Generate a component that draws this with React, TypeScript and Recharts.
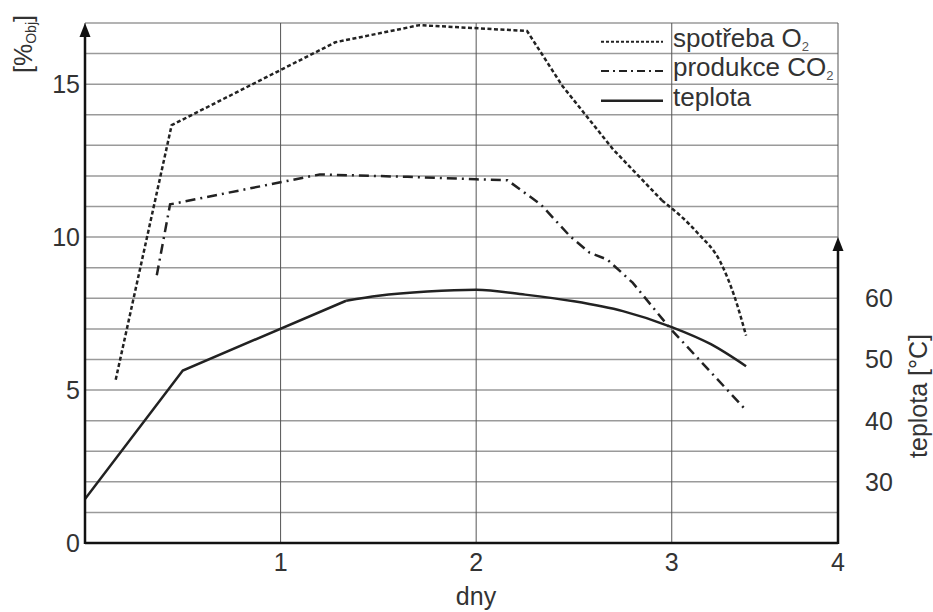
import React from 'react';
import { LineChart, Line, XAxis, YAxis, CartesianGrid, ReferenceLine } from 'recharts';

const FONT = '"Liberation Sans", Arial, sans-serif';
const INK = '#222';
const TEXT = '#333';

// axis ticks
const dayTicks = [1, 2, 3, 3.85];
const percentTicks = [0, 1, 2, 3, 4, 5, 6, 7, 8, 9, 10, 11, 12, 13, 14, 15, 16, 17];
const tempTicks = [30, 40, 50, 60];

// spotřeba O2 [%]
const o2Days = [0.157, 0.443, 1.28, 1.71, 2.26, 2.44, 2.7, 2.95, 3.13, 3.25, 3.32, 3.38];
const o2Values = [5.34, 13.66, 16.37, 16.93, 16.74, 14.95, 12.87, 11.2, 10.15, 9.17, 8.07, 6.78];

// produkce CO2 [%]
const co2Days = [0.367, 0.435, 1.2, 1.65, 2.0, 2.16, 2.33, 2.48, 2.58, 2.67, 2.8, 2.99, 3.37];
const co2Values = [8.75, 11.07, 12.05, 11.97, 11.89, 11.86, 11.07, 10.03, 9.49, 9.27, 8.51, 7.03, 4.41];

// teplota [°C]
const tempDays = [0, 0.5, 1.335, 1.5, 1.75, 2.0, 2.25, 2.5, 2.75, 3.0, 3.2, 3.38];
const tempValues = [27.2, 48.2, 59.6, 60.4, 61.1, 61.4, 60.6, 59.5, 57.9, 55.3, 52.5, 48.9];

const toPoints = (days: number[], values: number[]) =>
  days.map((day, i) => ({ day, value: values[i] }));

const o2Data = toPoints(o2Days, o2Values);
const co2Data = toPoints(co2Days, co2Values);
const tempData = toPoints(tempDays, tempValues);

// straight pieces are drawn linear, the rounded ends as smooth curves
const o2Straight = o2Data.slice(0, 8);
const o2Tail = o2Data.slice(7);
const tempStraight = tempData.slice(0, 3);
const tempArc = tempData.slice(2);

const ArrowAxis = (props: any) => {
  const { x1, y1, x2, y2 } = props;
  const x = x1 ?? x2;
  const top = Math.min(y1, y2);
  const bottom = Math.max(y1, y2);
  return (
    <g>
      <line x1={x} y1={bottom + 1} x2={x} y2={top + 10} stroke="#111" strokeWidth={2.5} />
      <polygon points={`${x},${top} ${x - 5.5},${top + 14} ${x + 5.5},${top + 14}`} fill="#111" />
    </g>
  );
};

const LeftTitle = (props: any) => {
  const vb = props.viewBox || { x: 0, y: 23 };
  return (
    <text
      transform="rotate(-90)"
      x={-(vb.y + 21)}
      y={vb.x + 32}
      textAnchor="middle"
      fontSize={25}
      fontFamily={FONT}
      fill={TEXT}
    >
      [%
      <tspan fontSize={14} dy={4}>Obj</tspan>
      <tspan dy={-4}>]</tspan>
    </text>
  );
};

const RightTitle = (props: any) => {
  const vb = props.viewBox || { x: 838, y: 23 };
  return (
    <text
      transform="rotate(-90)"
      x={-(vb.y + 373)}
      y={vb.x + 89}
      textAnchor="middle"
      fontSize={25}
      fontFamily={FONT}
      fill={TEXT}
    >
      teplota [°C]
    </text>
  );
};

const BottomTitle = (props: any) => {
  const vb = props.viewBox || { x: 85, y: 543 };
  return (
    <text x={vb.x + 391} y={vb.y + 62} textAnchor="middle" fontSize={25} fontFamily={FONT} fill={TEXT}>
      dny
    </text>
  );
};

const LegendBox = () => (
  <svg width={245} height={100} style={{ position: 'absolute', left: 590, top: 20 }}>
    <line x1={11} y1={21.7} x2={73} y2={21.7} stroke={INK} strokeWidth={2} strokeDasharray="3 2" />
    <text x={83} y={26.7} fontSize={26} fontFamily={FONT} fill={TEXT}>
      spotřeba O<tspan fontSize={13} dy={4} fill="#555">2</tspan>
    </text>
    <line x1={11} y1={51} x2={73} y2={51} stroke={INK} strokeWidth={2} strokeDasharray="8 4 2 4" />
    <text x={83} y={56} fontSize={26} fontFamily={FONT} fill={TEXT}>
      produkce CO<tspan fontSize={13} dy={4} fill="#555">2</tspan>
    </text>
    <line x1={11} y1={80.7} x2={73} y2={80.7} stroke={INK} strokeWidth={2.5} />
    <text x={83} y={85.7} fontSize={26} fontFamily={FONT} fill={TEXT}>
      teplota
    </text>
  </svg>
);

const tickStyle = { fill: TEXT, fontSize: 25, fontFamily: FONT };

export default function App() {
  return (
    <div style={{ position: 'absolute', left: 0, top: 0, width: 933, height: 612, background: '#fff' }}>
      <LineChart width={933} height={612} margin={{ top: 23, right: 0, bottom: 0, left: 0 }}>
        <CartesianGrid horizontal vertical={false} stroke="#9a9a9a" strokeWidth={1.5} />
        <CartesianGrid horizontal={false} vertical stroke="#555" strokeWidth={1} />
        <XAxis
          dataKey="day"
          type="number"
          domain={[0, 3.85]}
          ticks={dayTicks}
          interval={0}
          allowDataOverflow
          tickFormatter={(v: number) => String(Math.round(v))}
          axisLine={{ stroke: '#111', strokeWidth: 2.5 }}
          tickLine={false}
          tickSize={0}
          tickMargin={10}
          height={69}
          tick={tickStyle}
          label={BottomTitle}
        />
        <YAxis
          type="number"
          domain={[0, 17]}
          ticks={percentTicks}
          interval={0}
          tickFormatter={(v: number) => (v % 5 === 0 ? String(v) : '')}
          width={85}
          axisLine={false}
          tickLine={false}
          tickSize={0}
          tickMargin={5}
          tick={tickStyle}
          label={LeftTitle}
        />
        <YAxis
          yAxisId="right"
          orientation="right"
          type="number"
          domain={[20, 105]}
          ticks={tempTicks}
          interval={0}
          width={95}
          axisLine={false}
          tickLine={false}
          tickSize={0}
          tickMargin={27}
          tick={{ ...tickStyle, textAnchor: 'start' }}
          label={RightTitle}
        />
        <Line
          data={o2Straight}
          dataKey="value"
          type="linear"
          stroke={INK}
          strokeWidth={2.5}
          strokeDasharray="4 2.5"
          dot={false}
          activeDot={false}
          isAnimationActive={false}
        />
        <Line
          data={o2Tail}
          dataKey="value"
          type="monotone"
          stroke={INK}
          strokeWidth={2.5}
          strokeDasharray="4 2.5"
          dot={false}
          activeDot={false}
          isAnimationActive={false}
        />
        <Line
          data={co2Data}
          dataKey="value"
          type="linear"
          stroke={INK}
          strokeWidth={2.5}
          strokeDasharray="10 5 2 5"
          dot={false}
          activeDot={false}
          isAnimationActive={false}
        />
        <Line
          data={tempStraight}
          yAxisId="right"
          dataKey="value"
          type="linear"
          stroke={INK}
          strokeWidth={2.5}
          dot={false}
          activeDot={false}
          isAnimationActive={false}
        />
        <Line
          data={tempArc}
          yAxisId="right"
          dataKey="value"
          type="monotone"
          stroke={INK}
          strokeWidth={2.5}
          dot={false}
          activeDot={false}
          isAnimationActive={false}
        />
        <ReferenceLine segment={[{ x: 0, y: 0 }, { x: 0, y: 17 }]} shape={ArrowAxis} ifOverflow="visible" />
        <ReferenceLine
          yAxisId="right"
          segment={[{ x: 3.85, y: 20 }, { x: 3.85, y: 70 }]}
          shape={ArrowAxis}
          ifOverflow="visible"
        />
      </LineChart>
      <LegendBox />
    </div>
  );
}
